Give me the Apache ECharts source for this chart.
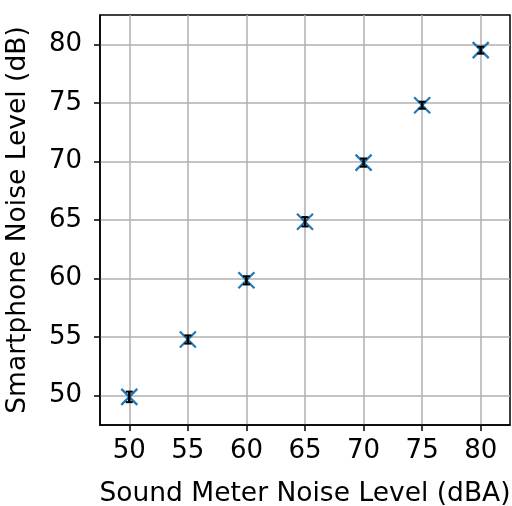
<!DOCTYPE html>
<html><head><meta charset="utf-8">
<script src="https://cdn.jsdelivr.net/npm/echarts@6/dist/echarts.min.js"></script>
<style>html,body{margin:0;padding:0;background:#fff}#c{width:512px;height:506px}</style>
</head><body><div id="c"></div>
<script>
const meterLevels = [50, 55, 60, 65, 70, 75, 80];
const phoneLevels = [49.9, 54.8, 59.85, 64.85, 69.9, 74.8, 79.5];
const phoneErrors = [0.45, 0.35, 0.35, 0.4, 0.35, 0.3, 0.3];
const xTicks = [50, 55, 60, 65, 70, 75, 80];
const yTicks = [50, 55, 60, 65, 70, 75, 80];

const FONT = 'DejaVu Sans';
const chart = echarts.init(document.getElementById('c'), null, {renderer: 'canvas'});
const data = meterLevels.map((x, i) => [x, phoneLevels[i], phoneErrors[i]]);

function renderItem(params, api) {
  const x = api.value(0), y = api.value(1), e = api.value(2);
  const c = api.coord([x, y]);
  const top = api.coord([x, y + e]);
  const bot = api.coord([x, y - e]);
  const s = 8, cap = 3.5;
  const blue = {stroke: '#1f77b4', lineWidth: 2.2, lineCap: 'butt'};
  const blk = {stroke: '#000', lineWidth: 2.5};
  return {type: 'group', children: [
    {type: 'line', shape: {x1: c[0]-s, y1: c[1]-s, x2: c[0]+s, y2: c[1]+s}, style: blue},
    {type: 'line', shape: {x1: c[0]-s, y1: c[1]+s, x2: c[0]+s, y2: c[1]-s}, style: blue},
    {type: 'line', shape: {x1: top[0], y1: top[1], x2: bot[0], y2: bot[1]}, style: blk},
    {type: 'line', shape: {x1: top[0]-cap, y1: top[1], x2: top[0]+cap, y2: top[1]}, style: {stroke: '#000', lineWidth: 2}},
    {type: 'line', shape: {x1: bot[0]-cap, y1: bot[1], x2: bot[0]+cap, y2: bot[1]}, style: {stroke: '#000', lineWidth: 2}}
  ]};
}

const axisCommon = {
  type: 'value', interval: 5,
  axisLine: {show: true, onZero: false, lineStyle: {color: '#000', width: 1.5}},
  splitLine: {show: true, lineStyle: {color: '#b0b0b0', width: 1.5}},
  nameLocation: 'middle',
  nameTextStyle: {fontFamily: FONT, fontSize: 26.5, color: '#000'}
};

chart.setOption({
  animation: false,
  backgroundColor: '#fff',
  grid: {left: 100, right: 2, top: 15, bottom: 81, containLabel: false, outerBoundsMode: 'none',
         show: true, borderColor: '#000', borderWidth: 1.5, backgroundColor: 'transparent'},
  xAxis: Object.assign({}, axisCommon, {
    min: 47.5, max: 82.5, name: 'Sound Meter Noise Level (dBA)', nameGap: 56,
    axisTick: {show: true, length: 6, lineStyle: {color: '#000', width: 1.5}, customValues: xTicks},
    axisLabel: {fontFamily: FONT, fontSize: 26, color: '#000', margin: 13, customValues: xTicks}
  }),
  yAxis: Object.assign({}, axisCommon, {
    min: 47.5, max: 82.5, name: 'Smartphone Noise Level (dB)', nameGap: 68,
    axisTick: {show: true, length: 6, lineStyle: {color: '#000', width: 1.5}, customValues: yTicks},
    axisLabel: {fontFamily: FONT, fontSize: 26, color: '#000', margin: 18, customValues: yTicks}
  }),
  series: [{type: 'custom', renderItem: renderItem, data: data, clip: false, z: 10}]
});
</script></body></html>
